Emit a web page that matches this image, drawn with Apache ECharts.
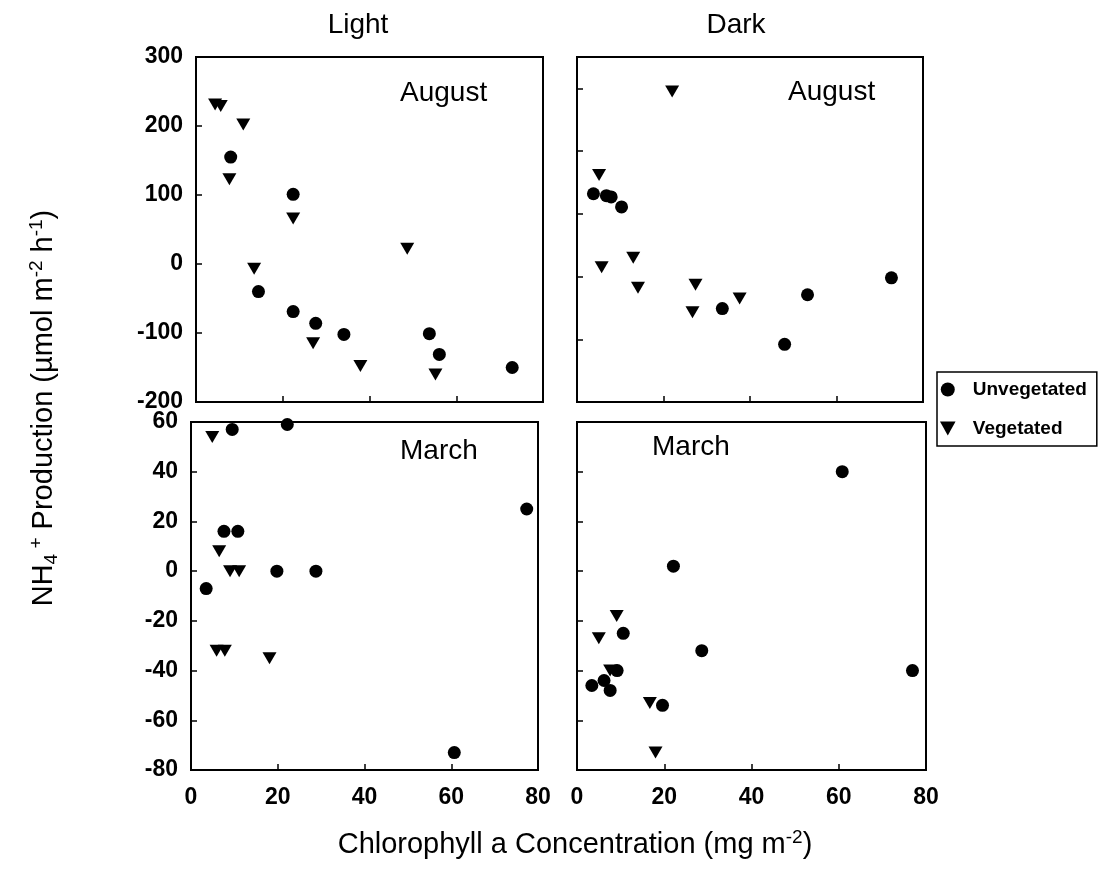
<!DOCTYPE html>
<html>
<head>
<meta charset="utf-8">
<script src="https://cdn.jsdelivr.net/npm/echarts@6/dist/echarts.min.js"></script>
<style>html,body{margin:0;padding:0;background:#fff}#c{width:1112px;height:873px}</style>
</head>
<body>
<div id="c"></div>
<script>
// ---- data (x = chlorophyll a, mg m-2 ; y = NH4+ production) ----
const lightAugUnveg = [[8.0,155],[22.4,101],[14.4,-40],[22.4,-69],[27.6,-86],[34.1,-102],[53.8,-101],[56.1,-131],[72.9,-150]];
const lightAugVeg   = [[4.4,231],[5.7,229],[10.9,202],[7.7,123],[22.4,66],[13.4,-7],[27.0,-115],[37.9,-148],[48.7,22],[55.2,-160]];
const darkAugUnveg  = [[3.8,32],[6.8,29],[7.9,27],[10.3,11],[33.6,-151],[48.0,-208],[53.3,-129],[72.7,-102]];
const darkAugVeg    = [[22.0,195],[5.1,62],[5.7,-85],[13.0,-70],[14.1,-118],[27.4,-113],[26.7,-157],[37.6,-135]];
const lightMarUnveg = [[9.5,57],[22.2,59],[77.4,25],[7.6,16],[10.8,16],[19.8,0],[28.8,0],[3.5,-7],[60.7,-73]];
const lightMarVeg   = [[4.9,54],[6.5,8],[9.0,0],[11.1,0],[5.9,-32],[7.8,-32],[18.1,-35]];
const darkMarUnveg  = [[60.8,40],[22.1,2],[10.6,-25],[28.6,-32],[76.9,-40],[9.2,-40],[3.4,-46],[6.2,-44],[7.6,-48],[19.6,-54]];
const darkMarVeg    = [[9.1,-18],[5.0,-27],[7.6,-40],[16.7,-53],[18.0,-73]];

const xTicks = {min:0, max:80, interval:20};
const yAugLight = {min:-200, max:300, interval:100};
const yAugDark  = {min:-300, max:250, interval:100};
const yMar      = {min:-80, max:60, interval:20};

const seriesNames = ['Unvegetated','Vegetated'];
const columnTitles = ['Light','Dark'];
const panelTitles = ['August','August','March','March'];
const xTitle = 'Chlorophyll a Concentration (mg m';
const yTitleParts = ['NH','4','+',' Production (µmol m','-2',' h','-1',')'];

// ---- styles ----
const FF = '"Liberation Sans", Arial, sans-serif';
const tri = 'path://M0,0L10,0L5,9Z';
const grids = [
  {left:196, top:57, width:347, height:345},
  {left:577, top:57, width:346, height:345},
  {left:191, top:422, width:347, height:348},
  {left:577, top:422, width:349, height:348}
].map(g => Object.assign(g, {show:true, borderColor:'#000', borderWidth:2, backgroundColor:'transparent'}));

const tickLabel = {fontFamily:FF, fontWeight:'bold', fontSize:23, color:'#000'};
function mkX(i, show) {
  return Object.assign({type:'value', gridIndex:i,
    axisLine:{show:true, onZero:false, lineStyle:{color:'#000', width:2}},
    axisTick:{show:true, inside:true, length:6, lineStyle:{color:'#000', width:1.5}},
    axisLabel:Object.assign({show:show, margin:16, showMinLabel:true, showMaxLabel:true}, tickLabel),
    splitLine:{show:false}}, xTicks);
}
function mkY(i, sc, show) {
  return Object.assign({type:'value', gridIndex:i,
    axisLine:{show:true, onZero:false, lineStyle:{color:'#000', width:2}},
    axisTick:{show:true, inside:true, length:6, lineStyle:{color:'#000', width:1.5}},
    axisLabel:Object.assign({show:show, margin:13, showMinLabel:true, showMaxLabel:true}, tickLabel),
    splitLine:{show:false}}, sc);
}
const panelData = [[lightAugUnveg, lightAugVeg],[darkAugUnveg, darkAugVeg],[lightMarUnveg, lightMarVeg],[darkMarUnveg, darkMarVeg]];
const series = [];
panelData.forEach((pd, i) => {
  series.push({type:'scatter', name:seriesNames[0], xAxisIndex:i, yAxisIndex:i, data:pd[0],
    symbol:'circle', symbolSize:13, itemStyle:{color:'#000', opacity:1}, emphasis:{disabled:true}});
  series.push({type:'scatter', name:seriesNames[1], xAxisIndex:i, yAxisIndex:i, data:pd[1],
    symbol:tri, symbolSize:[14,12], itemStyle:{color:'#000', opacity:1}, emphasis:{disabled:true}});
});

const big = {fontFamily:FF, fontSize:28, fill:'#000'};
function txt(x, y, s, align) {
  return {type:'text', x:x, y:y, style:Object.assign({text:s, align:align, textAlign:align, verticalAlign:'middle', textVerticalAlign:'middle'}, big)};
}
const richBase = {
  m:{fontFamily:FF, fontSize:29, color:'#000'},
  sub:{fontFamily:FF, fontSize:19, color:'#000', padding:[15,0,0,0]},
  sup:{fontFamily:FF, fontSize:19, color:'#000', padding:[0,0,15,0]}
};

const option = {
  animation:false,
  backgroundColor:'#fff',
  grid:grids,
  xAxis:[mkX(0,false), mkX(1,false), mkX(2,true), mkX(3,true)],
  yAxis:[mkY(0,yAugLight,true), mkY(1,yAugDark,false), mkY(2,yMar,true), mkY(3,yMar,false)],
  legend:{data:seriesNames, orient:'vertical', left:937, top:372, itemWidth:40, itemHeight:14, itemGap:20,
    padding:[8,10,8,3], borderColor:'#000', borderWidth:1.5, backgroundColor:'#fff',
    textStyle:{fontFamily:FF, fontWeight:'bold', fontSize:19, color:'#000'}, selectedMode:false},
  series:series,
  graphic:[
    txt(358, 25, columnTitles[0], 'center'),
    txt(736, 25, columnTitles[1], 'center'),
    txt(400, 93, panelTitles[0], 'left'),
    txt(788, 92, panelTitles[1], 'left'),
    txt(400, 451, panelTitles[2], 'left'),
    txt(652, 447, panelTitles[3], 'left'),
    {type:'text', x:575, y:845, style:{text:'{m|'+xTitle+'}{sup|-2}{m|)}', rich:richBase,
      align:'center', textAlign:'center', verticalAlign:'middle', textVerticalAlign:'middle'}},
    {type:'text', x:44, y:408, rotation:Math.PI/2, style:{
      text:'{m|'+yTitleParts[0]+'}{sub|'+yTitleParts[1]+'}{sup| '+yTitleParts[2]+'}{m|'+yTitleParts[3]+'}{sup|'+yTitleParts[4]+'}{m|'+yTitleParts[5]+'}{sup|'+yTitleParts[6]+'}{m|'+yTitleParts[7]+'}',
      rich:richBase, align:'center', textAlign:'center', verticalAlign:'middle', textVerticalAlign:'middle'}}
  ]
};
echarts.init(document.getElementById('c'), null, {renderer:'canvas'}).setOption(option);
</script>
</body>
</html>
